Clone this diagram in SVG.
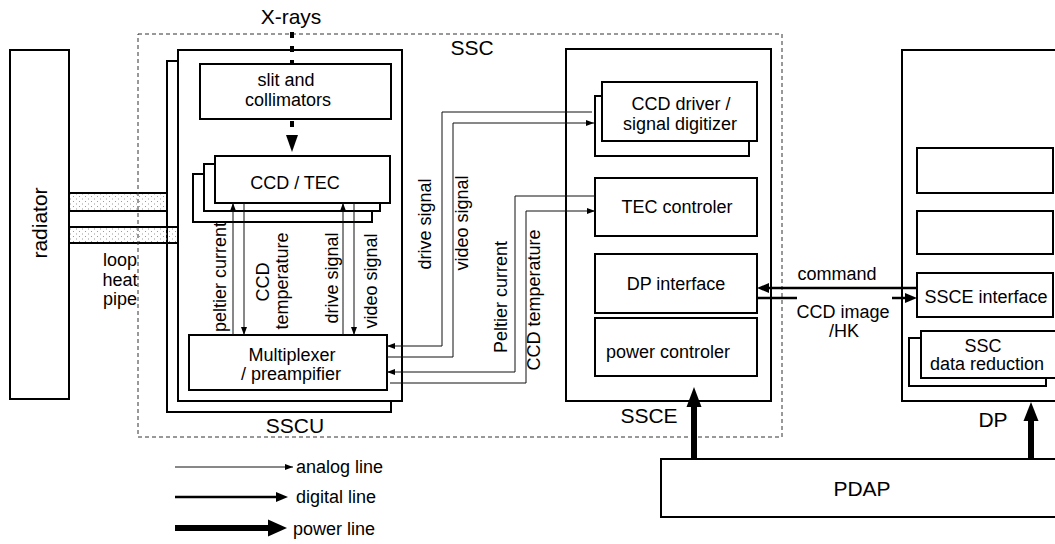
<svg xmlns="http://www.w3.org/2000/svg" width="1055" height="544" viewBox="0 0 1055 544">
  <defs>
    <style>
      .box{fill:#fff;stroke:#000;stroke-width:2}
      .t{font-family:"Liberation Sans",Arial,Helvetica,sans-serif;font-size:18px;fill:#000;text-anchor:middle}
      .big{font-size:21px}
      .st{text-anchor:start}
      .an{fill:none;stroke:#111;stroke-width:1}
      .dg{fill:none;stroke:#000;stroke-width:2.5}
      .pw{fill:#000;stroke:none}
      .pipe{fill:url(#dots);stroke:#000;stroke-width:2}
    </style>
    <marker id="ah" markerUnits="userSpaceOnUse" viewBox="0 0 8 6" markerWidth="8" markerHeight="6" refX="8" refY="3" orient="auto">
      <path d="M0,0 L8,3 L0,6 z" fill="#000"/>
    </marker>
    <marker id="dh" markerUnits="userSpaceOnUse" viewBox="0 0 12 10" markerWidth="12" markerHeight="10" refX="6" refY="5" orient="auto">
      <path d="M0,0 L12,5 L0,10 z" fill="#000"/>
    </marker>
    <pattern id="dots" width="6" height="5" patternUnits="userSpaceOnUse">
      <rect x="1" y="1" width="1" height="1" fill="#9a9a9a"/>
      <rect x="4" y="3.5" width="1" height="1" fill="#9a9a9a"/>
    </pattern>
  </defs>

  <rect width="1055" height="544" fill="#fff"/>

  <!-- radiator -->
  <g id="radiator">
    <rect class="box" x="10" y="50" width="59" height="349"/>
    <text class="t big" transform="translate(47,223) rotate(-90)">radiator</text>
  </g>

  <!-- SSCU housing (stacked) -->
  <g id="sscu">
    <rect class="box" x="167" y="61" width="224" height="351"/>
    <rect class="box" x="178" y="50" width="224" height="351"/>
    <text class="t big" x="295" y="433">SSCU</text>
  </g>

  <!-- loop heat pipes -->
  <g id="loop-heat-pipe">
    <rect class="pipe" x="69" y="193" width="98" height="18"/>
    <rect class="pipe" x="69" y="227" width="109" height="16"/>
    <text class="t" x="120" y="266">loop</text>
    <text class="t" x="120" y="285.5">heat</text>
    <text class="t" x="120" y="305">pipe</text>
  </g>

  <g id="slit">
    <rect class="box" x="200" y="64" width="191" height="55"/>
    <text class="t" x="286" y="86">slit and</text>
    <text class="t" x="288" y="106">collimators</text>
  </g>

  <g id="ccd-tec">
    <rect class="box" x="193" y="174" width="179" height="48"/>
    <rect class="box" x="204" y="164" width="176" height="47"/>
    <rect class="box" x="215" y="156" width="175" height="47"/>
    <text class="t" x="295" y="189">CCD / TEC</text>
  </g>

  <g id="multiplexer">
    <rect class="box" x="189" y="335" width="198" height="55"/>
    <text class="t" x="292" y="361">Multiplexer</text>
    <text class="t" x="291" y="380">/ preampifier</text>
  </g>

  <!-- SSCE electronics -->
  <g id="ssce">
    <rect class="box" x="566" y="49" width="205" height="352"/>
    <text class="t big" x="649" y="423">SSCE</text>
  </g>

  <g id="ccd-driver">
    <rect class="box" x="595" y="96" width="154" height="60"/>
    <rect class="box" x="602" y="82" width="155" height="59"/>
    <text class="t" x="681" y="110">CCD driver /</text>
    <text class="t" x="680" y="130">signal digitizer</text>
  </g>

  <g id="tec-controler">
    <rect class="box" x="595" y="178" width="162" height="58"/>
    <text class="t" x="677" y="213">TEC controler</text>
  </g>

  <g id="dp-interface">
    <rect class="box" x="595" y="254" width="162" height="59"/>
    <text class="t" x="676" y="290">DP interface</text>
  </g>

  <g id="power-controler">
    <rect class="box" x="595" y="318" width="162" height="58"/>
    <text class="t" x="668" y="358">power controler</text>
  </g>

  <!-- data processor -->
  <g id="dp">
    <rect class="box" x="902" y="50" width="160" height="351"/>
    <rect class="box" x="917" y="148" width="136" height="45"/>
    <rect class="box" x="917" y="211" width="136" height="43"/>
    <text class="t big" x="993" y="427">DP</text>
  </g>

  <g id="ssce-interface">
    <rect class="box" x="917" y="273" width="136" height="44"/>
    <text class="t" x="986" y="303">SSCE interface</text>
  </g>

  <g id="ssc-data-reduction">
    <rect class="box" x="909" y="338" width="137" height="48"/>
    <rect class="box" x="921" y="331" width="142" height="47"/>
    <text class="t" x="983" y="352">SSC</text>
    <text class="t" x="987" y="370">data reduction</text>
  </g>

  <g id="pdap">
    <rect class="box" x="661" y="459" width="400" height="58"/>
    <text class="t big" x="862" y="496">PDAP</text>
  </g>

  <!-- SSC boundary -->
  <g id="ssc">
    <rect x="138" y="34" width="644" height="403" fill="none" stroke="#333" stroke-width="1" stroke-dasharray="4,3"/>
    <text class="t big" x="472" y="55">SSC</text>
  </g>

  <!-- connectors -->
  <g id="connectors">
    <!-- X-ray path -->
    <text class="t big" x="291" y="24">X-rays</text>
    <path d="M292,32 V64" fill="none" stroke="#000" stroke-width="4" stroke-dasharray="6,8"/>
    <path d="M292,121 V127" fill="none" stroke="#000" stroke-width="4"/>
    <polygon class="pw" points="286,135 298,135 292,152"/>

    <!-- analog lines between CCD/TEC and multiplexer -->
    <path class="an" d="M233,335 V203" marker-end="url(#ah)"/>
    <path class="an" d="M244,203 V335" marker-end="url(#ah)"/>
    <path class="an" d="M343,335 V203" marker-end="url(#ah)"/>
    <path class="an" d="M354,203 V335" marker-end="url(#ah)"/>
    <text class="t" transform="translate(226,277) rotate(-90)">peltier current</text>
    <text class="t" transform="translate(269,282) rotate(-90)">CCD</text>
    <text class="t" transform="translate(288,281) rotate(-90)">temperature</text>
    <text class="t" transform="translate(338,278) rotate(-90)">drive signal</text>
    <text class="t" transform="translate(377,281) rotate(-90)">video signal</text>

    <!-- analog lines between SSCU and SSCE -->
    <path class="an" d="M592,112 H442 V346 H387" marker-end="url(#ah)"/>
    <path class="an" d="M387,357 H453 V123 H594" marker-end="url(#ah)"/>
    <path class="an" d="M595,196 H515 V372 H387" marker-end="url(#ah)"/>
    <path class="an" d="M390,383 H526 V211 H595" marker-end="url(#ah)"/>
    <text class="t" transform="translate(431,224) rotate(-90)">drive signal</text>
    <text class="t" transform="translate(468,223) rotate(-90)">video signal</text>
    <text class="t" transform="translate(507,297) rotate(-90)">Peltier current</text>
    <text class="t" transform="translate(540,300) rotate(-90)">CCD temperature</text>

    <!-- digital lines between DP interface and SSCE interface -->
    <path class="dg" d="M917,288 H763" marker-end="url(#dh)"/>
    <path class="dg" d="M757,298 H797"/>
    <path class="dg" d="M892,298 H911" marker-end="url(#dh)"/>
    <text class="t" x="837" y="280">command</text>
    <text class="t" x="843" y="318">CCD image</text>
    <text class="t" x="844" y="337">/HK</text>

    <!-- power lines from PDAP -->
    <rect class="pw" x="691" y="406" width="6" height="53"/>
    <polygon class="pw" points="686.5,407 701.5,407 694,387"/>
    <rect class="pw" x="1028" y="420" width="6" height="39"/>
    <polygon class="pw" points="1023.5,421 1038.5,421 1031,402"/>
  </g>

  <!-- legend -->
  <g id="legend">
    <path class="an" d="M175,467 H293" marker-end="url(#ah)"/>
    <text class="t st" x="296" y="473">analog line</text>
    <path class="dg" d="M175,497 H282" marker-end="url(#dh)"/>
    <text class="t st" x="296" y="503">digital line</text>
    <rect class="pw" x="175" y="525" width="95" height="6"/>
    <polygon class="pw" points="268,519.5 287,528 268,536.5"/>
    <text class="t st" x="293" y="535">power line</text>
  </g>
</svg>
